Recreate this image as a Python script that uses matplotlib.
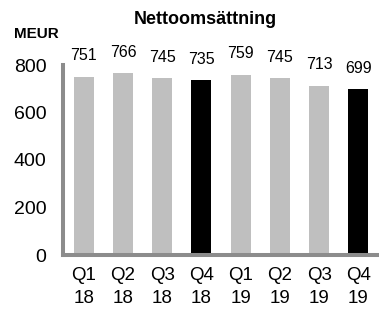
import matplotlib
matplotlib.use("Agg")
import matplotlib.pyplot as plt

quarters = ["Q1\n18", "Q2\n18", "Q3\n18", "Q4\n18", "Q1\n19", "Q2\n19", "Q3\n19", "Q4\n19"]
values = [751, 766, 745, 735, 759, 745, 713, 699]
highlight = [False, False, False, True, False, False, False, True]
yticks = [0, 200, 400, 600, 800]

plt.rcParams['font.family'] = ['Liberation Sans', 'DejaVu Sans']

W, H = 379, 312
fig = plt.figure(figsize=(W / 100, H / 100), dpi=100)
ax = fig.add_axes([63 / W, (H - 255) / H, (378 - 63) / W, (255 - 65) / H])

colors = ["#000000" if h else "#bfbfbf" for h in highlight]
x = list(range(len(values)))
bars = ax.bar(x, values, width=0.51, color=colors, zorder=2)

for xi, v in zip(x, values):
    ax.annotate(str(v), (xi, v), xytext=(0, 15), textcoords="offset points",
                ha="center", va="center", fontsize=11.5)

ax.set_xlim(-0.53, 7.5)
ax.set_ylim(0, 800)
ax.set_yticks(yticks)
ax.set_yticklabels([str(t) for t in yticks], fontsize=14)
ax.set_xticks(x)
ax.set_xticklabels(quarters, fontsize=13.5, linespacing=1.4)
ax.tick_params(axis="both", length=0)
ax.tick_params(axis="y", pad=12)
ax.tick_params(axis="x", pad=9)

for s in ["top", "right"]:
    ax.spines[s].set_visible(False)
for s in ["left", "bottom"]:
    ax.spines[s].set_color("#8c8c8c")
    ax.spines[s].set_linewidth(2.9)
    ax.spines[s].set_zorder(3)

fig.text(205 / W, 1 - 20 / H, "Nettoomsättning", ha="center", va="center",
         fontsize=13, fontweight="bold")
fig.text(14 / W, 1 - 33.5 / H, "MEUR", ha="left", va="center",
         fontsize=11, fontweight="bold")

fig.savefig("out.png", dpi=100)
